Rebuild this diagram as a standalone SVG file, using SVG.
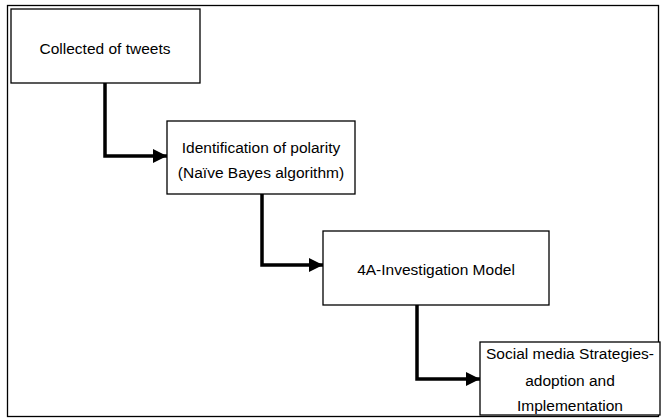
<svg xmlns="http://www.w3.org/2000/svg" width="662" height="419" viewBox="0 0 662 419">
<style>
.box{fill:#fff;stroke:#000;stroke-width:1.3}
.t{font-family:"Liberation Sans",Arial,sans-serif;font-size:15.5px;fill:#000;text-anchor:middle}
.c{fill:none;stroke:#000;stroke-width:3.5}
</style>
<defs>
<marker id="ah" markerUnits="userSpaceOnUse" markerWidth="14" markerHeight="14" viewBox="0 0 14 14" refX="14" refY="7" orient="auto">
<path d="M0,0 L14,7 L0,14 Z" fill="#000"/>
</marker>
</defs>
<rect x="7.5" y="5.5" width="651" height="411" fill="#fff" stroke="#000" stroke-width="1.3"/>
<g id="connectors">
<path class="c" d="M105,83 V156 H167" marker-end="url(#ah)"/>
<path class="c" d="M262,194 V265 H323" marker-end="url(#ah)"/>
<path class="c" d="M417,305 V379 H480" marker-end="url(#ah)"/>
</g>
<g id="n1">
<rect class="box" x="11" y="9" width="189" height="74"/>
<text class="t" x="105" y="54">Collected of tweets</text>
</g>
<g id="n2">
<rect class="box" x="167" y="121" width="188" height="73"/>
<text class="t" x="261" y="153">Identification of polarity</text>
<text class="t" x="261" y="178">(Naïve Bayes algorithm)</text>
</g>
<g id="n3">
<rect class="box" x="323" y="231" width="226" height="74"/>
<text class="t" x="436" y="275">4A-Investigation Model</text>
</g>
<g id="n4">
<rect class="box" x="480" y="342" width="180" height="73"/>
<text class="t" x="570" y="359">Social media Strategies-</text>
<text class="t" x="570" y="386">adoption and</text>
<text class="t" x="570" y="411">Implementation</text>
</g>
</svg>
